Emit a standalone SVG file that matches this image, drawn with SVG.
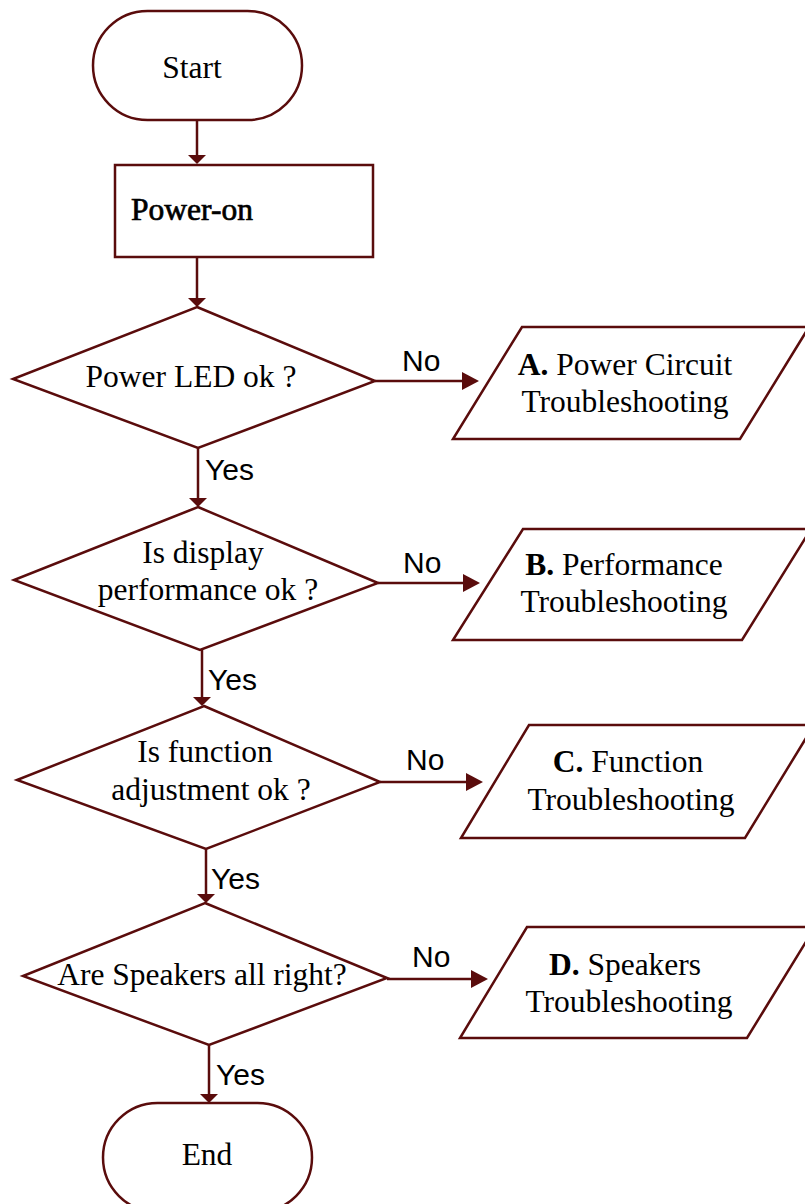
<svg xmlns="http://www.w3.org/2000/svg" width="805" height="1204" viewBox="0 0 805 1204">
<style>
.s{fill:#fff;stroke:#5a0c0c;stroke-width:2.5}
.t{font-family:"Liberation Serif","Times New Roman",serif;font-size:31.5px;fill:#000;text-anchor:middle}
.b{font-weight:bold}
.fb{stroke:#000;stroke-width:0.7}
.l{font-family:"Liberation Sans",Arial,sans-serif;font-size:30px;fill:#000}
.c{stroke:#5a0c0c;stroke-width:2.5;fill:none}
.h{fill:#5a0c0c}
</style>
<g id="connectors">
<path class="c" d="M197,120 V155"/>
<path class="h" d="M188,155 L206,155 L197,164 Z"/>
<path class="c" d="M197,257 V298"/>
<path class="h" d="M188,298 L206,298 L197,307 Z"/>
<path class="c" d="M198,448 V498"/>
<path class="h" d="M189,498 L207,498 L198,507 Z"/>
<path class="c" d="M202,650 V697"/>
<path class="h" d="M193,697 L211,697 L202,706 Z"/>
<path class="c" d="M206,849 V894"/>
<path class="h" d="M197,894 L215,894 L206,903 Z"/>
<path class="c" d="M209,1045 V1094"/>
<path class="h" d="M200,1094 L218,1094 L209,1103 Z"/>
<path class="c" d="M375,381 H463"/>
<path class="h" d="M462,372 L479,381 L462,390 Z"/>
<path class="c" d="M378,583 H464"/>
<path class="h" d="M463,574 L480,583 L463,592 Z"/>
<path class="c" d="M380,782 H467"/>
<path class="h" d="M466,773 L483,782 L466,791 Z"/>
<path class="c" d="M387,979 H472"/>
<path class="h" d="M471,970 L488,979 L471,988 Z"/>
<text class="l" x="205" y="480">Yes</text>
<text class="l" x="208" y="690">Yes</text>
<text class="l" x="211" y="889">Yes</text>
<text class="l" x="216" y="1085">Yes</text>
<text class="l" x="402" y="371">No</text>
<text class="l" x="403" y="573">No</text>
<text class="l" x="406" y="770">No</text>
<text class="l" x="412" y="967">No</text>
</g>
<g id="start">
<rect class="s" x="93" y="11" width="209" height="109" rx="54.5" ry="54.5"/>
<text class="t" x="192" y="78">Start</text>
</g>
<g id="power-on">
<rect class="s" x="115" y="165" width="258" height="92"/>
<text class="t fb" x="192" y="220">Power-on</text>
</g>
<g id="d1">
<polygon class="s" points="197,307 375,381 198,448 13,379"/>
<text class="t" x="191" y="387">Power LED ok ?</text>
</g>
<g id="d2">
<polygon class="s" points="198,507 378,583 200,650 14,580"/>
<text class="t" x="203" y="563">Is display</text>
<text class="t" x="208" y="600">performance ok ?</text>
</g>
<g id="d3">
<polygon class="s" points="204,706 380,782 206,849 17,780"/>
<text class="t" x="205" y="762">Is function</text>
<text class="t" x="211" y="800">adjustment ok ?</text>
</g>
<g id="d4">
<polygon class="s" points="205,903 387,978 209,1045 23,976"/>
<text class="t" x="202" y="985">Are Speakers all right?</text>
</g>
<g id="end">
<rect class="s" x="103" y="1103" width="209" height="109" rx="54.5" ry="54.5"/>
<text class="t" x="207" y="1165">End</text>
</g>
<g id="pa">
<polygon class="s" points="522,327 809,327 740,439 453,439"/>
<text class="t" x="625" y="375"><tspan class="b">A.</tspan> Power Circuit</text>
<text class="t" x="625" y="412">Troubleshooting</text>
</g>
<g id="pb">
<polygon class="s" points="523,529 811,529 742,640 453,640"/>
<text class="t" x="624" y="575"><tspan class="b">B.</tspan> Performance</text>
<text class="t" x="624" y="612">Troubleshooting</text>
</g>
<g id="pc">
<polygon class="s" points="529,725 814,725 745,838 461,838"/>
<text class="t" x="628" y="772"><tspan class="b">C.</tspan> Function</text>
<text class="t" x="631" y="810">Troubleshooting</text>
</g>
<g id="pd">
<polygon class="s" points="527,927 815,927 747,1038 460,1038"/>
<text class="t" x="625" y="975"><tspan class="b">D.</tspan> Speakers</text>
<text class="t" x="629" y="1012">Troubleshooting</text>
</g>
</svg>
